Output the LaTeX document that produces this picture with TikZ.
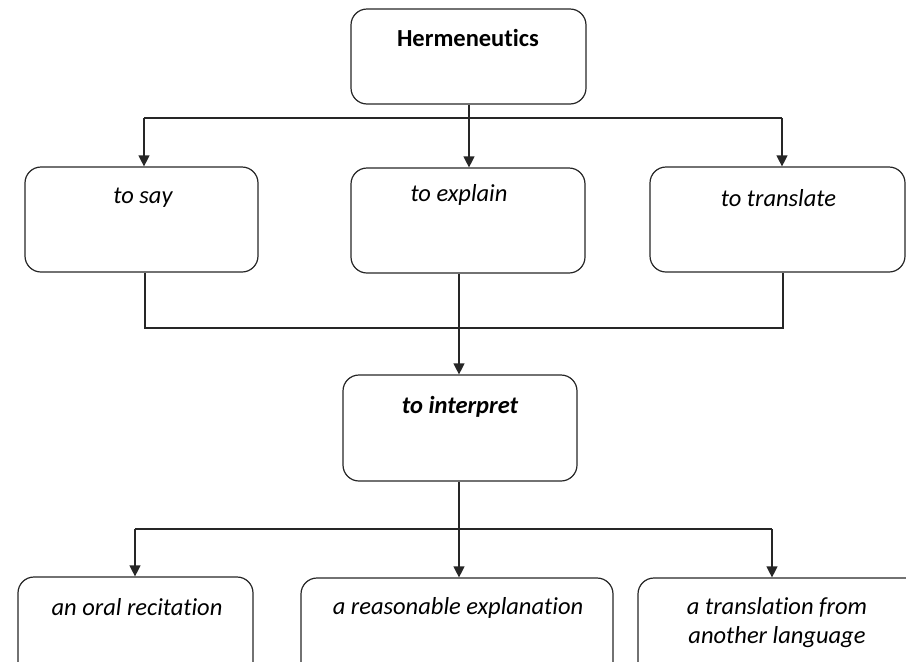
\documentclass[tikz,border=0pt]{standalone}
\usepackage{fontspec}
\setmainfont{Carlito}[Ligatures=NoCommon]
\usetikzlibrary{arrows.meta}
\begin{document}
\begin{tikzpicture}[x=1pt,y=-1pt,
  box/.style={draw=black!85, line width=1.2pt, rounded corners=16pt, inner sep=0pt},
  lbl/.style={font=\fontsize{24.5}{29}\selectfont\itshape, inner sep=0pt, align=center},
  lblb/.style={font=\fontsize{24.5}{29}\selectfont\bfseries, inner sep=0pt},
  conn/.style={draw=black!85, line width=1.2pt},
  arr/.style={conn, -{Triangle[length=11pt,width=11pt]}}]
\useasboundingbox (0,0) rectangle (906,662);
\clip (0,0) rectangle (906,662);
% boxes
\node[box, minimum width=235pt, minimum height=95pt] (herm) at (468.5,56.5) {};
\node[box, minimum width=233pt, minimum height=105pt] (say) at (141.5,219.5) {};
\node[box, minimum width=234pt, minimum height=105pt] (explain) at (468,220.5) {};
\node[box, minimum width=255pt, minimum height=105pt] (translate) at (777.5,219.5) {};
\node[box, minimum width=234pt, minimum height=106pt] (interp) at (460,428) {};
\node[box, minimum width=235pt, minimum height=110pt] (oral) at (135.5,632) {};
\node[box, minimum width=312pt, minimum height=110pt] (reason) at (457,633) {};
\node[box, minimum width=300pt, minimum height=110pt] (transl) at (788,633) {};
% texts
\node[lblb] (thermt) at (468,38) {Hermeneutics};
\node[lbl] (tsay) at (143,198) {to say};
\node[lbl] (texpl) at (459,195) {to explain};
\node[lbl] (ttrans) at (778.5,198) {to translate};
\node[lbl, font=\fontsize{24.5}{29}\selectfont\bfseries\itshape] (tinterp) at (460,407) {to interpret};
\node[lbl] (toral) at (137,607) {an oral recitation};
\node[lbl] (treason) at (458,608) {a reasonable explanation};
\node[lbl] (ttransl) at (777,622.5) {a translation from\\another language};
% top connectors
\coordinate (ja) at (144,118);
\coordinate (jb) at (782,118);
\draw[arr] (herm.south -| 469,0) -- (explain.north -| 469,0);
\draw[conn] (ja) -- (jb);
\draw[arr] (ja) -- (ja |- say.north);
\draw[arr] (jb) -- (jb |- translate.north);
% middle connectors
\coordinate (ma) at (145,328);
\coordinate (mb) at (783,328);
\draw[conn] (say.south -| ma) -- (ma) -- (mb) -- (translate.south -| mb);
\draw[arr] (explain.south -| 459,0) -- (interp.north -| 459,0);
% bottom connectors
\coordinate (ba) at (135,529);
\coordinate (bb) at (772,529);
\draw[conn] (ba) -- (bb);
\draw[arr] (ba) -- (ba |- oral.north);
\draw[arr] (bb) -- (bb |- transl.north);
\draw[arr] (interp.south -| 459,0) -- (reason.north -| 459,0);
\end{tikzpicture}
\end{document}
